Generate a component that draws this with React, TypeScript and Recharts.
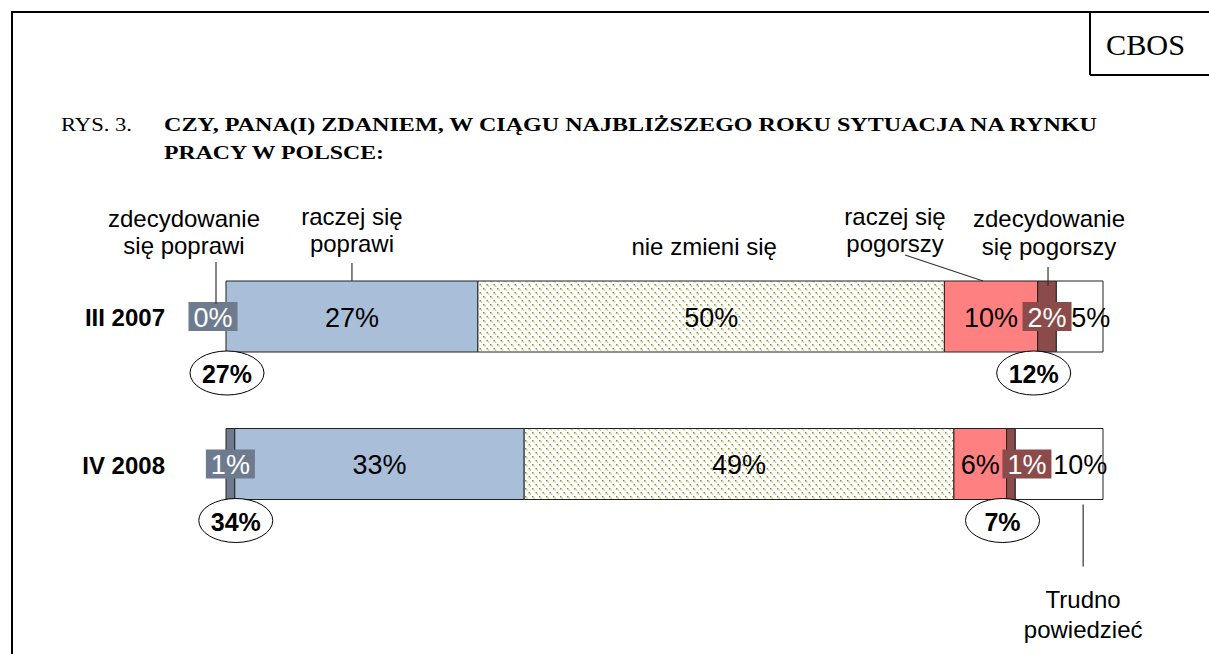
import React from 'react';
import { BarChart, Bar, XAxis, YAxis, LabelList } from 'recharts';

// Odpowiedzi w procentach, kolejno: III 2007, IV 2008
const periods = ['III 2007', 'IV 2008'];
const zdecydowaniePoprawi = [0, 1];
const raczejPoprawi = [27, 33];
const nieZmieni = [50, 49];
const raczejPogorszy = [10, 6];
const zdecydowaniePogorszy = [2, 1];
const trudnoPowiedziec = [5, 10];

const data = periods.map((period, i) => ({
  period,
  zp: zdecydowaniePoprawi[i],
  rp: raczejPoprawi[i],
  nz: nieZmieni[i],
  rg: raczejPogorszy[i],
  zg: zdecydowaniePogorszy[i],
  tp: trudnoPowiedziec[i],
}));

const SANS = 'Liberation Sans, Arial, sans-serif';
const SERIF = 'Liberation Serif, Times New Roman, serif';

type Note = {
  row: number;
  lines: string[];
  dx: number; // text centre relative to segment centre
  ys: number[]; // line centres relative to bar top (or bottom when below)
  below?: boolean;
  leader?: [number, number, number, number];
};

type Series = {
  key: string;
  fill: string;
  boxed?: boolean;
  shift: number[]; // label shift per row
  note: Note;
};

const series: Series[] = [
  {
    key: 'zp',
    fill: '#6E7B8F',
    boxed: true,
    shift: [-13, 0],
    note: { row: 0, lines: ['zdecydowanie', 'się poprawi'], dx: -42, ys: [-63, -36], leader: [-10, -19, -10, 23] },
  },
  {
    key: 'rp',
    fill: '#A8BED9',
    shift: [0, 0],
    note: { row: 0, lines: ['raczej się', 'poprawi'], dx: 0, ys: [-65, -38], leader: [0, -18, 0, 0] },
  },
  {
    key: 'nz',
    fill: 'url(#dots)',
    shift: [0, 0],
    note: { row: 0, lines: ['nie zmieni się'], dx: -7, ys: [-35] },
  },
  {
    key: 'rg',
    fill: '#FF8080',
    shift: [0, 0],
    note: { row: 0, lines: ['raczej się', 'pogorszy'], dx: -96, ys: [-65, -38], leader: [-86, -26, -8, 0] },
  },
  {
    key: 'zg',
    fill: '#8B4B4A',
    boxed: true,
    shift: [0, 16],
    note: { row: 0, lines: ['zdecydowanie', 'się pogorszy'], dx: 2, ys: [-63, -35], leader: [1, -14, 1, 5] },
  },
  {
    key: 'tp',
    fill: '#FFFFFF',
    shift: [11, 21],
    note: { row: 1, lines: ['Trudno', 'powiedzieć'], dx: 24, ys: [100, 130], below: true, leader: [24, 5, 24, 67] },
  },
];

const textWidth = (s: string, size: number) => {
  let w = 0;
  for (const ch of s) w += ch === '%' ? 0.889 : 0.556;
  return w * size;
};

// segment geometry: centre x, bar top, bar height
const drawSegment = (s: Series, cx: number, top: number, h: number, value: number, index: number) => {
  const text = `${value}%`;
  const x = cx + s.shift[index];
  const cy = top + h / 2;
  const fs = 27;
  const n = s.note;
  const base = n.below ? top + h : top;
  return (
    <g>
      {s.boxed && (
        <rect x={x - (textWidth(text, fs) + 10) / 2} y={cy - 14.5} width={textWidth(text, fs) + 10} height={29} fill={s.fill} />
      )}
      <text x={x} y={cy + 1} textAnchor="middle" dominantBaseline="central" fontFamily={SANS} fontSize={fs} fill={s.boxed ? '#FFFFFF' : '#000'}>
        {text}
      </text>
      {index === n.row &&
        n.lines.map((line, i) => (
          <text key={i} x={cx + n.dx} y={base + n.ys[i]} textAnchor="middle" dominantBaseline="central" fontFamily={SANS} fontSize={24} fill="#000">
            {line}
          </text>
        ))}
      {index === n.row && n.leader && (
        <line x1={cx + n.leader[0]} y1={base + n.leader[1]} x2={cx + n.leader[2]} y2={base + n.leader[3]} stroke="#333" strokeWidth={1.2} />
      )}
    </g>
  );
};

const segLabel = (s: Series) => (props: any) => {
  const { x, y, width, height, value, index } = props;
  return drawSegment(s, Number(x) + Number(width) / 2, Number(y), Number(height), Number(value), index);
};

// the first segment can be 0 and then gets no label of its own,
// so it is placed from the neighbouring "raczej się poprawi" bar
const firstSegLabel = (props: any) => {
  const { x, y, width, height, index } = props;
  const w = (Number(width) * zdecydowaniePoprawi[index]) / raczejPoprawi[index];
  return drawSegment(series[0], Number(x) - w / 2, Number(y), Number(height), zdecydowaniePoprawi[index], index);
};

// Suma odpowiedzi "poprawi" / "pogorszy" w elipsie pod słupkiem
const sumLabel = (values: number[][], dx: number) => (props: any) => {
  const { x, y, height, index } = props;
  const total = values.reduce((acc, arr) => acc + arr[index], 0);
  const cx = Number(x) + dx;
  const cy = Number(y) + Number(height) + 21;
  return (
    <g>
      <ellipse cx={cx} cy={cy} rx={37} ry={22} fill="#FFFFFF" stroke="#000" strokeWidth={1} />
      <text x={cx} y={cy + 1} textAnchor="middle" dominantBaseline="central" fontFamily={SANS} fontWeight="bold" fontSize={25} fill="#000">
        {`${total}%`}
      </text>
    </g>
  );
};

const PeriodTick = (props: any) => {
  const { x, y, payload } = props;
  return (
    <text x={Number(x) - 53} y={Number(y) + 1} textAnchor="end" dominantBaseline="central" fontFamily={SANS} fontWeight="bold" fontSize={24} fill="#000">
      {payload.value}
    </text>
  );
};

export default function App() {
  return (
    <div style={{ position: 'absolute', left: 0, top: 0, width: 1209, height: 654, background: '#fff' }}>
      <svg width={1209} height={654} style={{ position: 'absolute', left: 0, top: 0 }}>
        <line x1={11} y1={12} x2={1209} y2={12} stroke="#000" strokeWidth={2} />
        <line x1={12} y1={12} x2={12} y2={654} stroke="#000" strokeWidth={2} />
        <line x1={1090} y1={12} x2={1090} y2={75} stroke="#000" strokeWidth={2} />
        <line x1={1090} y1={75} x2={1209} y2={75} stroke="#000" strokeWidth={2} />
        <text x={1106} y={55} fontFamily={SERIF} fontSize={30} textLength={79} lengthAdjust="spacingAndGlyphs">CBOS</text>
        <text x={61} y={131} fontFamily={SERIF} fontSize={19} textLength={71} lengthAdjust="spacingAndGlyphs">RYS. 3.</text>
        <text x={164} y={131} fontFamily={SERIF} fontWeight="bold" fontSize={19} textLength={933} lengthAdjust="spacingAndGlyphs">
          CZY, PANA(I) ZDANIEM, W CIĄGU NAJBLIŻSZEGO ROKU SYTUACJA NA RYNKU
        </text>
        <text x={164} y={159} fontFamily={SERIF} fontWeight="bold" fontSize={19} textLength={220} lengthAdjust="spacingAndGlyphs">
          PRACY W POLSCE:
        </text>
      </svg>
      <div style={{ position: 'absolute', left: 0, top: 0 }}>
        <BarChart
          width={1209}
          height={654}
          data={data}
          layout="vertical"
          stackOffset="expand"
          barSize={71}
          margin={{ top: 243, right: 106, bottom: 116, left: 0 }}
        >
          <defs>
            <pattern id="dots" width={7} height={8} patternUnits="userSpaceOnUse">
              <rect width={7} height={8} fill="#FFFFFF" />
              <rect x={0} y={0} width={1.5} height={1.5} fill="#8C8C2C" />
              <rect x={1.5} y={1.5} width={1.2} height={1.2} fill="#B8B860" />
              <rect x={3.5} y={4} width={1.5} height={1.5} fill="#8C8C2C" />
              <rect x={5} y={5.5} width={1.2} height={1.2} fill="#B8B860" />
            </pattern>
          </defs>
          <XAxis type="number" hide domain={[0, 1]} />
          <YAxis type="category" dataKey="period" width={226} axisLine={false} tickLine={false} tick={<PeriodTick />} />
          {series.map((s) => (
            <Bar key={s.key} dataKey={s.key} stackId="a" fill={s.fill} stroke="#222" strokeWidth={1} isAnimationActive={false}>
              {s.key !== 'zp' && <LabelList dataKey={s.key} content={segLabel(s)} />}
              {s.key === 'rp' && <LabelList dataKey={s.key} content={firstSegLabel} />}
              {s.key === 'rp' && <LabelList dataKey={s.key} content={sumLabel([zdecydowaniePoprawi, raczejPoprawi], 1)} />}
              {s.key === 'zg' && <LabelList dataKey={s.key} content={sumLabel([raczejPogorszy, zdecydowaniePogorszy], -4)} />}
            </Bar>
          ))}
        </BarChart>
      </div>
    </div>
  );
}
